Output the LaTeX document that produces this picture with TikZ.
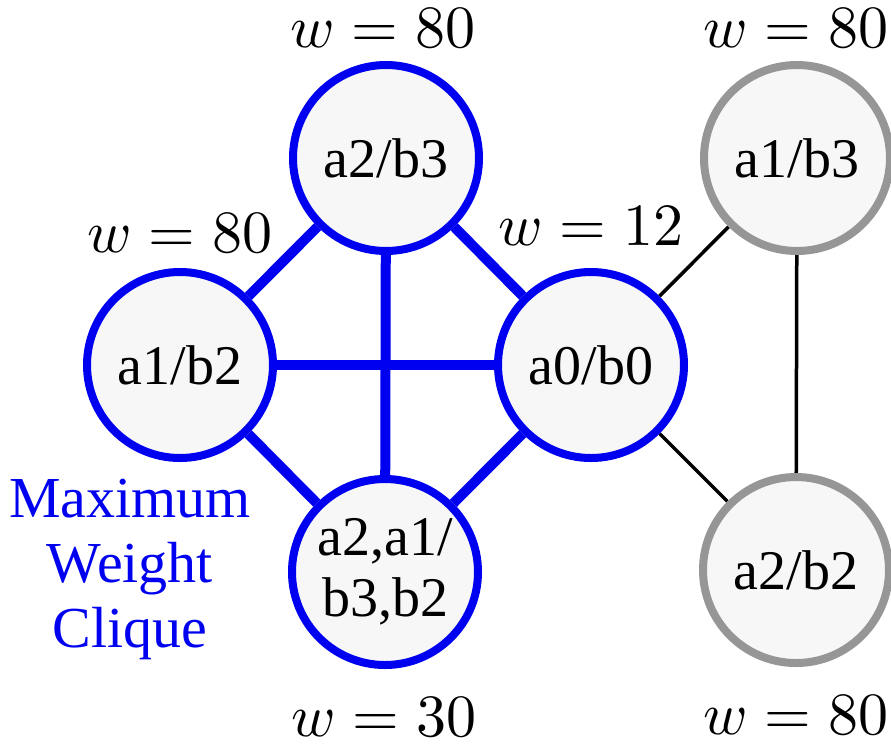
\documentclass[tikz,border=0pt]{standalone}
\usepackage[no-math]{fontspec}
\setmainfont{Liberation Serif}
\usetikzlibrary{backgrounds}
\definecolor{cblue}{RGB}{0,0,240}
\definecolor{cgray}{RGB}{150,150,150}
\definecolor{cfill}{RGB}{247,247,247}
\begin{document}
\begin{tikzpicture}[x=1pt,y=-1pt,
  vtx/.style={circle, minimum size=186pt, inner sep=0pt, line width=8pt, fill=cfill, font=\fontsize{56}{61}\selectfont, align=center},
  clique/.style={vtx, draw=cblue},
  other/.style={vtx, draw=cgray},
  cedge/.style={draw=cblue, line width=10pt},
  oedge/.style={draw=black, line width=3.5pt},
  wlab/.style={font=\fontsize{10}{12}\selectfont, inner sep=0pt, scale=6}]
\useasboundingbox (0,0) rectangle (891,748);
\node[clique] (a2b3) at (386,158) {a2/b3};
\node[clique] (a1b2) at (180,365) {a1/b2};
\node[clique] (a0b0) at (591,365) {a0/b0};
\node[clique] (mix)  at (385,572) {a2,a1/\\b3,b2};
\node[other]  (a1b3) at (797,158) {a1/b3};
\node[other]  (a2b2) at (796,570) {a2/b2};
\node[wlab] (l1) at (383,28) {$w=80$};
\node[wlab] (l2) at (796,28) {$w=80$};
\node[wlab] (l3) at (180,233) {$w=80$};
\node[wlab] (l4) at (591,226) {$w=12$};
\node[wlab] (l5) at (384,717) {$w=30$};
\node[wlab] (l6) at (796,715) {$w=80$};
\node[text=cblue, align=center, inner sep=0pt, font=\fontsize{58}{65}\selectfont] (mwc) at (130,569) {Maximum\\Weight\\Clique};
\begin{pgfonlayer}{background}
\draw[cedge] (a2b3) -- (a1b2);
\draw[cedge] (a2b3) -- (a0b0);
\draw[cedge] (a2b3) -- (mix);
\draw[cedge] (a1b2) -- (a0b0);
\draw[cedge] (a1b2) -- (mix);
\draw[cedge] (a0b0) -- (mix);
\draw[oedge] (a0b0) -- (a1b3);
\draw[oedge] (a0b0) -- (a2b2);
\draw[oedge] (a1b3) -- (a2b2);
\end{pgfonlayer}
\end{tikzpicture}
\end{document}
